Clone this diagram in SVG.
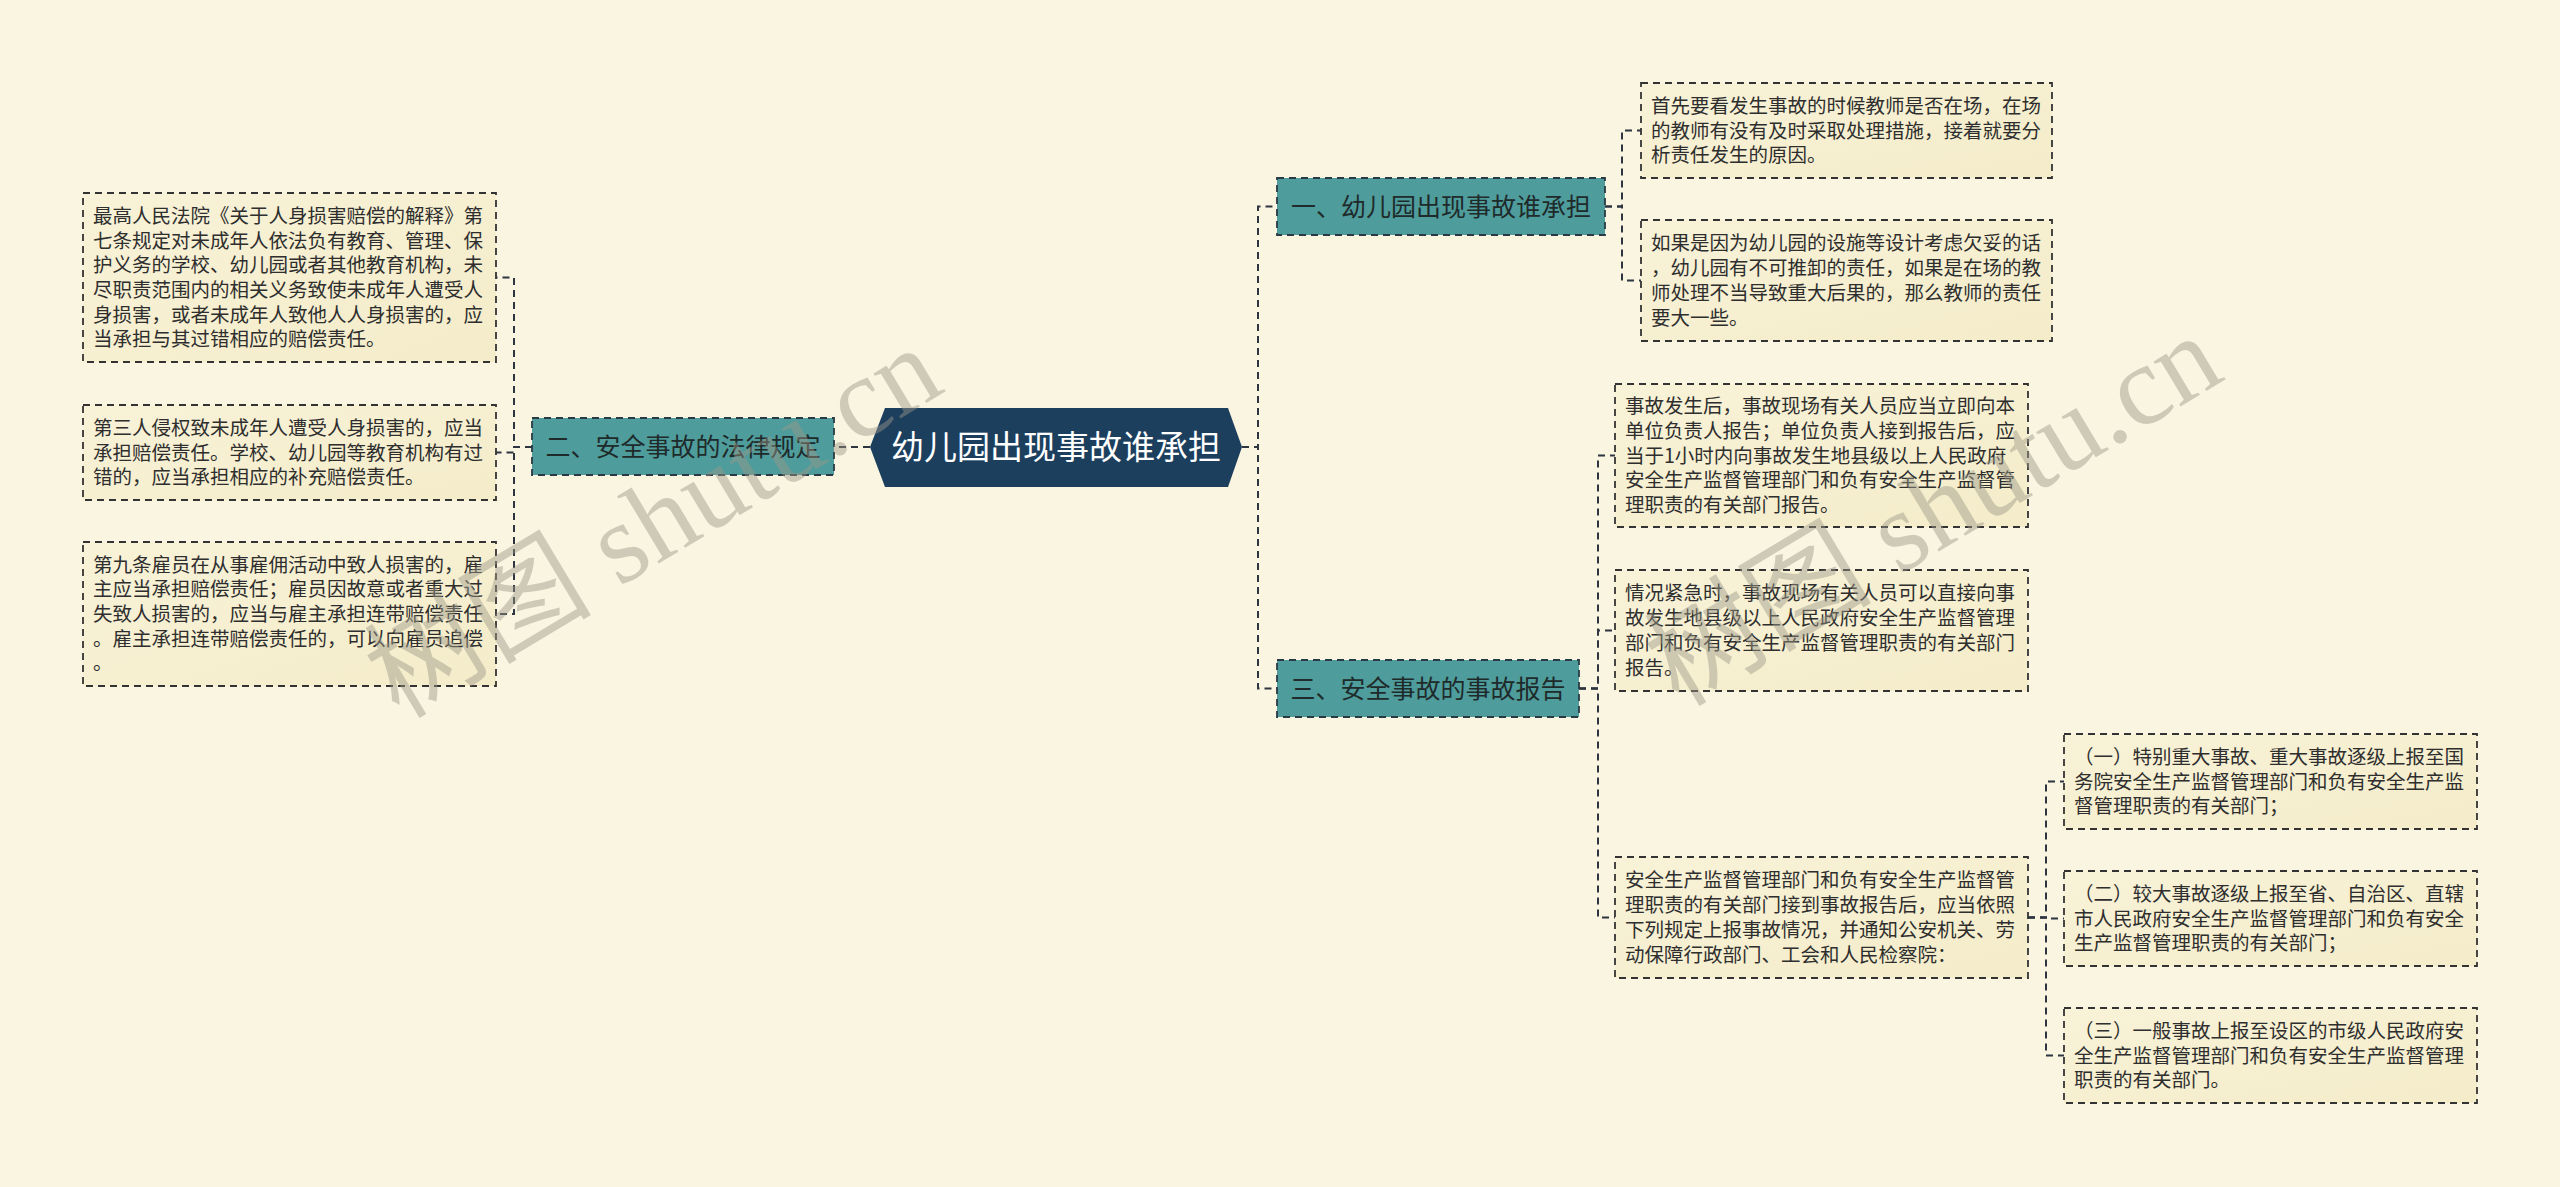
<svg xmlns="http://www.w3.org/2000/svg" width="2560" height="1187" viewBox="0 0 2560 1187">
<defs>
<linearGradient id="leafg" x1="0" y1="0" x2="1" y2="1">
<stop offset="0" stop-color="#f8f2d8"/>
<stop offset="1" stop-color="#f4ecc9"/>
</linearGradient>
</defs>
<style>
.bg{fill:#faf5e0}
.leaf rect{fill:url(#leafg);stroke:#333;stroke-width:1.8;stroke-dasharray:7 5}
.leaf text{font-family:"Noto Sans CJK SC","Microsoft YaHei",sans-serif;font-size:19.5px;fill:#2e2e2e}
.topic rect{fill:#4e9c9c;stroke:#2a3a45;stroke-width:1.8;stroke-dasharray:7 5}
.topic text{font-family:"Noto Sans CJK SC",sans-serif;font-size:25px;fill:#1f2a2a;text-anchor:middle}
.root polygon{fill:#1c3f5e}
.root text{font-family:"Noto Sans CJK SC",sans-serif;font-size:33px;fill:#ffffff;text-anchor:middle}
.conn path{fill:none;stroke:#2d3540;stroke-width:2;stroke-dasharray:7 5}
.wm{font-family:"Liberation Serif","Noto Sans CJK SC",serif;font-size:114px;fill:#9c9888;opacity:0.45}
</style>
<rect class="bg" x="0" y="0" width="2560" height="1187"/>

<g id="connectors" class="conn">
<path d="M870,447 H834"/>
<path d="M532,447 H514 V277.5 H496"/>
<path d="M532,447 H514 V452.5 H496"/>
<path d="M532,447 H514 V614 H496"/>
<path d="M1242,447 H1258 V206.5 H1277"/>
<path d="M1242,447 H1258 V688.5 H1277"/>
<path d="M1605,206.5 H1622 V130.5 H1641"/>
<path d="M1605,206.5 H1622 V280.5 H1641"/>
<path d="M1579,688.5 H1598 V455.5 H1615"/>
<path d="M1579,688.5 H1598 V630.5 H1615"/>
<path d="M1579,688.5 H1598 V917.5 H1615"/>
<path d="M2028,917.5 H2046 V781.5 H2064"/>
<path d="M2028,917.5 H2046 V918.5 H2064"/>
<path d="M2028,917.5 H2046 V1055.5 H2064"/>
</g>

<g id="root" class="root">
<polygon points="870,447 885,408 1228,408 1242,447 1228,487 885,487"/>
<text x="1056" y="459">幼儿园出现事故谁承担</text>
</g>

<g id="topic1" class="topic">
<rect x="1277" y="178" width="328" height="57"/>
<text x="1441" y="216">一、幼儿园出现事故谁承担</text>
</g>
<g id="topic2" class="topic">
<rect x="532" y="418" width="302" height="57"/>
<text x="683" y="456">二、安全事故的法律规定</text>
</g>
<g id="topic3" class="topic">
<rect x="1277" y="660" width="302" height="57"/>
<text x="1428" y="698">三、安全事故的事故报告</text>
</g>

<g id="L1" class="leaf">
<rect x="83" y="193" width="413" height="169"/>
<text><tspan x="93" y="222.8">最高人民法院《关于人身损害赔偿的解释》第</tspan><tspan x="93" y="247.5">七条规定对未成年人依法负有教育、管理、保</tspan><tspan x="93" y="272.2">护义务的学校、幼儿园或者其他教育机构，未</tspan><tspan x="93" y="296.9">尽职责范围内的相关义务致使未成年人遭受人</tspan><tspan x="93" y="321.6">身损害，或者未成年人致他人人身损害的，应</tspan><tspan x="93" y="346.3">当承担与其过错相应的赔偿责任。</tspan></text>
</g>
<g id="L2" class="leaf">
<rect x="83" y="405" width="413" height="95"/>
<text><tspan x="93" y="434.8">第三人侵权致未成年人遭受人身损害的，应当</tspan><tspan x="93" y="459.5">承担赔偿责任。学校、幼儿园等教育机构有过</tspan><tspan x="93" y="484.2">错的，应当承担相应的补充赔偿责任。</tspan></text>
</g>
<g id="L3" class="leaf">
<rect x="83" y="542" width="413" height="144"/>
<text><tspan x="93" y="571.6">第九条雇员在从事雇佣活动中致人损害的，雇</tspan><tspan x="93" y="596.3">主应当承担赔偿责任；雇员因故意或者重大过</tspan><tspan x="93" y="621">失致人损害的，应当与雇主承担连带赔偿责任</tspan><tspan x="93" y="645.7">。雇主承担连带赔偿责任的，可以向雇员追偿</tspan><tspan x="93" y="670.4">。</tspan></text>
</g>

<g id="R1a" class="leaf">
<rect x="1641" y="83" width="411" height="95"/>
<text><tspan x="1651" y="112.8">首先要看发生事故的时候教师是否在场，在场</tspan><tspan x="1651" y="137.5">的教师有没有及时采取处理措施，接着就要分</tspan><tspan x="1651" y="162.2">析责任发生的原因。</tspan></text>
</g>
<g id="R1b" class="leaf">
<rect x="1641" y="220" width="411" height="121"/>
<text><tspan x="1651" y="250.45">如果是因为幼儿园的设施等设计考虑欠妥的话</tspan><tspan x="1651" y="275.15">，幼儿园有不可推卸的责任，如果是在场的教</tspan><tspan x="1651" y="299.85">师处理不当导致重大后果的，那么教师的责任</tspan><tspan x="1651" y="324.55">要大一些。</tspan></text>
</g>

<g id="R3a" class="leaf">
<rect x="1615" y="384" width="413" height="143"/>
<text><tspan x="1625" y="413.1">事故发生后，事故现场有关人员应当立即向本</tspan><tspan x="1625" y="437.8">单位负责人报告；单位负责人接到报告后，应</tspan><tspan x="1625" y="462.5">当于1小时内向事故发生地县级以上人民政府</tspan><tspan x="1625" y="487.2">安全生产监督管理部门和负有安全生产监督管</tspan><tspan x="1625" y="511.9">理职责的有关部门报告。</tspan></text>
</g>
<g id="R3b" class="leaf">
<rect x="1615" y="570" width="413" height="121"/>
<text><tspan x="1625" y="600.45">情况紧急时，事故现场有关人员可以直接向事</tspan><tspan x="1625" y="625.15">故发生地县级以上人民政府安全生产监督管理</tspan><tspan x="1625" y="649.85">部门和负有安全生产监督管理职责的有关部门</tspan><tspan x="1625" y="674.55">报告。</tspan></text>
</g>
<g id="R3c" class="leaf">
<rect x="1615" y="857" width="413" height="121"/>
<text><tspan x="1625" y="887.45">安全生产监督管理部门和负有安全生产监督管</tspan><tspan x="1625" y="912.15">理职责的有关部门接到事故报告后，应当依照</tspan><tspan x="1625" y="936.85">下列规定上报事故情况，并通知公安机关、劳</tspan><tspan x="1625" y="961.55">动保障行政部门、工会和人民检察院：</tspan></text>
</g>

<g id="C1" class="leaf">
<rect x="2064" y="734" width="413" height="95"/>
<text><tspan x="2074" y="763.8">（一）特别重大事故、重大事故逐级上报至国</tspan><tspan x="2074" y="788.5">务院安全生产监督管理部门和负有安全生产监</tspan><tspan x="2074" y="813.2">督管理职责的有关部门；</tspan></text>
</g>
<g id="C2" class="leaf">
<rect x="2064" y="871" width="413" height="95"/>
<text><tspan x="2074" y="900.8">（二）较大事故逐级上报至省、自治区、直辖</tspan><tspan x="2074" y="925.5">市人民政府安全生产监督管理部门和负有安全</tspan><tspan x="2074" y="950.2">生产监督管理职责的有关部门；</tspan></text>
</g>
<g id="C3" class="leaf">
<rect x="2064" y="1008" width="413" height="95"/>
<text><tspan x="2074" y="1037.8">（三）一般事故上报至设区的市级人民政府安</tspan><tspan x="2074" y="1062.5">全生产监督管理部门和负有安全生产监督管理</tspan><tspan x="2074" y="1087.2">职责的有关部门。</tspan></text>
</g>

<g id="watermarks">
<text class="wm" x="655" y="560" text-anchor="middle" transform="rotate(-31 655 525)">树图 shutu.cn</text>
<text class="wm" x="1935" y="548" text-anchor="middle" transform="rotate(-31 1935 513)">树图 shutu.cn</text>
</g>
</svg>
